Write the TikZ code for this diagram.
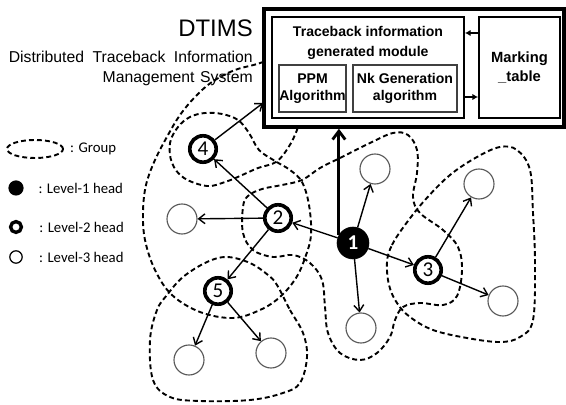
\documentclass[tikz,border=0pt]{standalone}
\usepackage{fontspec}
\setmainfont{Carlito}
\newfontfamily\arialfont{Liberation Sans}
\usepackage{tikz}
\usetikzlibrary{arrows.meta, calc, positioning, shapes.geometric}

\begin{document}
\begin{tikzpicture}[x=0.025cm, y=-0.025cm, node distance=0.1cm,
    lvlone/.style={circle, fill=black, draw=black, minimum size=0.8cm, inner sep=0pt,
        text=white, font=\fontsize{15}{15}\selectfont\bfseries},
    lvltwo/.style={circle, fill=white, draw=black, line width=2.6pt, minimum size=0.66cm,
        inner sep=0pt, font=\fontsize{15}{15}\selectfont},
    lvlthree/.style={circle, fill=white, draw=black!65, line width=0.8pt, minimum size=0.75cm},
    grpline/.style={line width=1.35pt, dash pattern=on 3.5pt off 2.2pt},
    link/.style={-{Straight Barb[length=4.5pt, width=7pt]}, line width=1pt},
    biglink/.style={-{Straight Barb[length=6pt, width=9pt]}, line width=2pt},
    modbox/.style={draw, fill=white, line width=1.3pt, inner sep=0pt},
    algbox/.style={draw=black!75, line width=1pt, inner sep=0pt, align=center,
        font=\arialfont\bfseries\fontsize{10}{12.5}\selectfont},
    legtxt/.style={inner sep=0pt, font=\fontsize{10.5}{12}\selectfont}
    ]
    \useasboundingbox (0,0) rectangle (566,405);

    % Title of the system
    \node (title) [anchor=base east, inner sep=0pt, font=\arialfont\fontsize{17}{17}\selectfont] at (253,37) {DTIMS};
    \node (subone) [anchor=base east, inner sep=0pt, font=\arialfont\fontsize{11.2}{12}\selectfont] at (253,63) {Distributed\hspace{6pt}Traceback\hspace{6pt}Information};
    \node (subtwo) [anchor=base east, inner sep=0pt, font=\arialfont\fontsize{11.2}{12}\selectfont] at (253,83) {Management\hspace{4pt}System};

    % Dashed outlines of the groups
    \draw[grpline] plot[smooth, tension=0.6] coordinates {(300,45) (263,62) (235,70) (212,82) (195,97) (180,115)
        (168,135) (155,160) (146,185) (143,212) (145,240) (155,270) (172,295) (200,312) (233,318) (260,310)
        (280,297) (296,278) (305,258) (311,235) (309,205) (302,182) (290,170) (275,161) (259,150) (249,133)
        (238,120) (222,114) (205,113) (190,117) (178,127) (170,143) (172,163) (184,178) (207,186) (225,182)
        (240,176) (258,168) (276,162) (288,148) (297,130) (302,110)};
    \draw[grpline] plot[smooth cycle, tension=0.6] coordinates {(320,168) (340,158) (370,143) (393,133) (408,135)
        (417,150) (417,173) (413,197) (420,213) (443,230) (458,247) (462,270) (457,296) (443,305) (420,303)
        (403,307) (395,320) (390,337) (377,353) (360,360) (340,353) (328,333) (325,307) (322,280) (310,263)
        (293,255) (273,257) (253,250) (243,233) (243,207) (248,196) (262,189) (282,185) (302,180)};
    \draw[grpline] plot[smooth cycle, tension=0.6] coordinates {(387,262) (392,245) (405,225) (425,200) (450,175)
        (477,157) (500,147) (517,150) (530,170) (533,213) (535,263) (533,320) (520,337) (500,342) (467,338)
        (433,330) (410,317) (397,303) (389,285)};
    \draw[grpline] plot[smooth cycle, tension=0.6] coordinates {(277,285) (290,310) (303,333) (307,357) (300,383)
        (283,393) (250,400) (200,401) (170,397) (153,380) (150,340) (157,310) (167,295) (183,277) (207,262)
        (227,257) (250,263) (268,275)};

    % DTIMS box with its modules
    \node (dtims) [draw, fill=white, line width=2.5pt, minimum width=7.5cm, minimum height=2.95cm] at (414,68) {};
    \node (tim) [modbox, minimum width=4.8cm, minimum height=2.525cm] at (368,67.5) {};
    \node (timtitle) [align=center, inner sep=0pt, font=\arialfont\bfseries\fontsize{10}{13.8}\selectfont] at (368,43) {Traceback information\\generated module};
    \node (ppm) [algbox, minimum width=1.675cm, minimum height=1.175cm] at (312.5,88.5) {PPM\\Algorithm};
    \node (nkgen) [algbox, minimum width=2.6cm, minimum height=1.175cm] at (405,88.5) {Nk Generation\\algorithm};
    \node (mark) [modbox, align=center, minimum width=2.025cm, minimum height=2.525cm,
        font=\arialfont\bfseries\fontsize{10.5}{13}\selectfont] at (519.5,67.5) {Marking\\\_table};

    \draw[-{Latex[length=4pt, width=4.5pt]}, line width=1pt] ($(mark.west)+(0,-34.5)$) -- ($(tim.east)+(0,-34.5)$);
    \draw[-{Latex[length=4pt, width=4.5pt]}, line width=1pt] ($(tim.east)+(0,29.5)$) -- ($(mark.west)+(0,29.5)$);

    % Heads of the traceback tree
    \node (n1) [lvlone] at (353,243) {1};
    \node (n2) [lvltwo] at (278,218) {2};
    \node (n3) [lvltwo] at (428,270) {3};
    \node (n4) [lvltwo] at (203,149) {4};
    \node (n5) [lvltwo] at (218,291) {5};
    \node (e1) [lvlthree] at (375,169) {};
    \node (e2) [lvlthree] at (361,328) {};
    \node (e3) [lvlthree] at (182,219) {};
    \node (e4) [lvlthree] at (189,360) {};
    \node (e5) [lvlthree] at (271,353) {};
    \node (e6) [lvlthree] at (479,184) {};
    \node (e7) [lvlthree] at (503,301) {};
    \coordinate (dtin) at (263,103);

    \draw[biglink] (n1.150) -- (n1.150 |- dtims.south);
    \draw[link] (n1) -- (n2);
    \draw[link] (n1) -- (n3);
    \draw[link] (n1) -- (e1);
    \draw[link] (n1) -- (e2);
    \draw[link] (n2) -- (n4);
    \draw[link] (n2) -- (e3);
    \draw[link] (n2) -- (n5);
    \draw[link] (n4) -- (dtin);
    \draw[link] (n5) -- (e4);
    \draw[link] (n5) -- (e5);
    \draw[link] (n3) -- (e6);
    \draw[link] (n3) -- (e7);

    % Legend
    \node (leggrp) [ellipse, draw, grpline, minimum width=1.4cm, minimum height=0.45cm] at (35,149) {};
    \node (legone) [circle, fill=black, minimum size=0.38cm, inner sep=0pt] at (16,188) {};
    \node (legtwo) [circle, draw, line width=2.4pt, minimum size=0.27cm, inner sep=0pt] at (16,227) {};
    \node (legthree) [circle, draw, line width=0.9pt, minimum size=0.31cm, inner sep=0pt] at (16,257) {};
    \node (txtgrp) [legtxt, right=0.15cm of leggrp] {: Group};
    \node (txtone) [legtxt, right=0.36cm of legone] {: Level-1 head};
    \node (txttwo) [legtxt, right=0.4cm of legtwo] {: Level-2 head};
    \node (txtthree) [legtxt, right=0.4cm of legthree] {: Level-3 head};
\end{tikzpicture}
\end{document}
